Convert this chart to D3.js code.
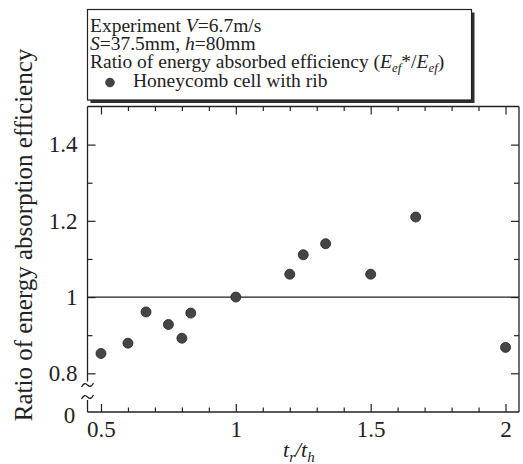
<!DOCTYPE html>
<html>
<head>
<meta charset="utf-8">
<script src="https://d3js.org/d3.v7.min.js"></script>
<style>
    body { margin: 0; background: #fff; }
    svg text { font-family: "Liberation Serif", "DejaVu Serif", serif; fill: #222; }
    .axis path.domain { display: none; }
    .axis line { stroke: #222; stroke-width: 1.2; }
</style>
</head>
<body>
<svg id="chart" width="523" height="464" font-family="Liberation Serif, DejaVu Serif, serif"></svg>
<script>
    // data
    const thicknessRatio = [0.5, 0.6, 0.667, 0.75, 0.8, 0.833, 1.0, 1.2, 1.25, 1.333, 1.5, 1.667, 2.0];
    const efficiencyRatio = [0.852, 0.879, 0.961, 0.928, 0.892, 0.958, 1.0, 1.060, 1.111, 1.140, 1.060, 1.210, 0.868];
    const xMajor = [0.5, 1, 1.5, 2];
    const xMinor = [0.6, 0.7, 0.8, 0.9, 1.1, 1.2, 1.3, 1.4, 1.6, 1.7, 1.8, 1.9];
    const yMajor = [0.8, 1, 1.2, 1.4];
    const yMinor = [0.9, 1.1, 1.3];

    const serif = "Liberation Serif, DejaVu Serif, serif";
    const plotL = 87.5, plotR = 519, plotT = 106.5, plotB = 412;
    const yFloor = 373.3; // where 0.8 sits, above the axis break

    const svg = d3.select("#chart");

    const x = d3.scaleLinear().domain([0.45, 2.05]).range([plotL, plotR]);
    const y = d3.scaleLinear().domain([0.8, 1.5]).range([yFloor, plotT]);
    const fmtY = d => d === 1 ? "1" : d3.format(".1f")(d);
    const fmtX = d => d % 1 === 0 ? d3.format("d")(d) : d3.format(".1f")(d);

    // axes, ticks pointing inward
    const bottomG = svg.append("g").attr("class", "axis")
        .attr("transform", `translate(0,${plotB})`)
        .call(d3.axisBottom(x).tickValues(xMajor).tickSize(-8).tickPadding(9).tickFormat(fmtX));
    svg.append("g").attr("class", "axis")
        .attr("transform", `translate(0,${plotB})`)
        .call(d3.axisBottom(x).tickValues(xMinor).tickSize(-4.5).tickFormat(""));
    svg.append("g").attr("class", "axis")
        .attr("transform", `translate(0,${plotT})`)
        .call(d3.axisTop(x).tickValues(xMajor).tickSize(-8).tickFormat(""));
    svg.append("g").attr("class", "axis")
        .attr("transform", `translate(0,${plotT})`)
        .call(d3.axisTop(x).tickValues(xMinor).tickSize(-4.5).tickFormat(""));

    const leftG = svg.append("g").attr("class", "axis")
        .attr("transform", `translate(${plotL},0)`)
        .call(d3.axisLeft(y).tickValues(yMajor).tickSize(-8).tickPadding(10).tickFormat(fmtY));
    svg.append("g").attr("class", "axis")
        .attr("transform", `translate(${plotL},0)`)
        .call(d3.axisLeft(y).tickValues(yMinor).tickSize(-5).tickFormat(""));
    svg.append("g").attr("class", "axis")
        .attr("transform", `translate(${plotR},0)`)
        .call(d3.axisRight(y).tickValues(yMajor).tickSize(-8).tickFormat(""));
    svg.append("g").attr("class", "axis")
        .attr("transform", `translate(${plotR},0)`)
        .call(d3.axisRight(y).tickValues(yMinor).tickSize(-5).tickFormat(""));

    svg.selectAll(".axis").attr("font-family", serif);
    bottomG.selectAll("text").style("font-size", "23px").attr("fill", "#222");
    leftG.selectAll("text").style("font-size", "23px").attr("fill", "#222");

    // frame, left side broken below 0.8
    const frame = svg.append("g").attr("stroke", "#222").attr("stroke-width", 1.3).attr("fill", "none");
    frame.append("line").attr("x1", plotL).attr("x2", plotR).attr("y1", plotT).attr("y2", plotT);
    frame.append("line").attr("x1", plotL).attr("x2", plotR).attr("y1", plotB).attr("y2", plotB);
    frame.append("line").attr("x1", plotR).attr("x2", plotR).attr("y1", plotT).attr("y2", plotB);
    frame.append("line").attr("x1", plotL).attr("x2", plotL).attr("y1", plotT).attr("y2", 381.5);
    frame.append("line").attr("x1", plotL).attr("x2", plotL).attr("y1", 400).attr("y2", plotB);

    const tilde = "M-6,2 C-4,-2 -2,-2 0,0 C2,2 4,2 6,-2";
    [385, 397].forEach(ty => {
        frame.append("path").attr("d", tilde)
            .attr("transform", `translate(${plotL},${ty})`);
    });

    svg.append("text").attr("x", plotL - 18).attr("y", plotB + 4)
        .attr("dy", "0.32em").attr("text-anchor", "middle")
        .style("font-size", "23px").text("0");

    // reference line at ratio 1
    svg.append("line")
        .attr("x1", plotL).attr("x2", plotR)
        .attr("y1", y(1)).attr("y2", y(1))
        .attr("stroke", "#222").attr("stroke-width", 1.3);

    // points
    svg.append("g").selectAll("circle")
        .data(thicknessRatio.map((t, i) => ({ t: t, r: efficiencyRatio[i] })))
        .join("circle")
        .attr("cx", d => x(d.t))
        .attr("cy", d => y(d.r))
        .attr("r", 5)
        .attr("fill", "#454545")
        .attr("stroke", "#222")
        .attr("stroke-width", 0.8);

    // axis titles
    svg.append("text")
        .attr("transform", `translate(32,235) rotate(-90)`)
        .attr("text-anchor", "middle")
        .style("font-size", "25px")
        .text("Ratio of energy absorption efficiency");

    const xt = svg.append("text")
        .attr("x", 283).attr("y", 457)
        .style("font-size", "22px").style("font-style", "italic");
    xt.append("tspan").text("t");
    xt.append("tspan").attr("dy", 5).style("font-size", "15px").text("r");
    xt.append("tspan").attr("dy", -5).text("/t");
    xt.append("tspan").attr("dy", 5).style("font-size", "15px").text("h");

    // legend box with drop shadow
    const lg = svg.append("g");
    lg.append("rect").attr("x", 90.5).attr("y", 12.5).attr("width", 384).attr("height", 90.5).attr("fill", "#2e2e2e");
    lg.append("rect").attr("x", 87.5).attr("y", 9.5).attr("width", 384).attr("height", 90.5)
        .attr("fill", "#fff").attr("stroke", "#222").attr("stroke-width", 1.2);

    const fs = "19.5px";
    const l1 = lg.append("text").attr("x", 90).attr("y", 32.3).style("font-size", fs);
    l1.append("tspan").text("Experiment ");
    l1.append("tspan").style("font-style", "italic").text("V");
    l1.append("tspan").text("=6.7m/s");

    const l2 = lg.append("text").attr("x", 90).attr("y", 49.5).style("font-size", fs);
    l2.append("tspan").style("font-style", "italic").text("S");
    l2.append("tspan").text("=37.5mm, ");
    l2.append("tspan").style("font-style", "italic").text("h");
    l2.append("tspan").text("=80mm");

    const l3 = lg.append("text").attr("x", 90).attr("y", 68.3).style("font-size", fs);
    l3.append("tspan").text("Ratio of energy absorbed efficiency (");
    l3.append("tspan").style("font-style", "italic").text("E");
    l3.append("tspan").attr("dy", 4).style("font-style", "italic").style("font-size", "13px").text("ef");
    l3.append("tspan").attr("dy", -4).text("*/");
    l3.append("tspan").style("font-style", "italic").text("E");
    l3.append("tspan").attr("dy", 4).style("font-style", "italic").style("font-size", "13px").text("ef");
    l3.append("tspan").attr("dy", -4).text(")");

    lg.append("circle").attr("cx", 110).attr("cy", 82.5).attr("r", 4.3)
        .attr("fill", "#454545").attr("stroke", "#222").attr("stroke-width", 0.8);
    lg.append("text").attr("x", 133).attr("y", 87.3).style("font-size", fs)
        .text("Honeycomb cell with rib");

    svg.selectAll("text").attr("font-family", serif).style("font-family", serif);
</script>
</body>
</html>
